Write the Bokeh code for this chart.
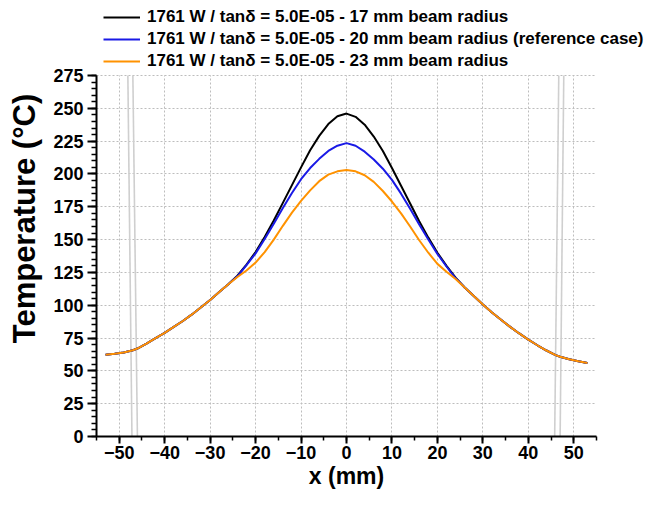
from bokeh.plotting import figure
from bokeh.models import Range1d, SingleIntervalTicker, Legend, LegendItem, Title
from bokeh.embed import file_html
from bokeh.resources import INLINE

# ---- data ----
x_mm = [-53, -51, -49, -47, -46, -44, -42, -40, -38, -36, -34, -32, -30, -28, -26,
        -24, -22, -20, -18, -16, -14, -12, -10, -8, -6, -4, -2, 0,
        2, 4, 6, 8, 10, 12, 14, 16, 18, 20, 22, 24,
        26, 28, 30, 32, 34, 36, 38, 40, 42, 44, 46, 47, 49, 51, 53]

temp_17mm = [62.2, 63, 64, 65.7, 67, 70.8, 75, 79, 83.5, 88, 93, 98.5, 104, 110, 116,
             122.5, 131, 140.5, 152, 164.5, 178, 191.5, 205, 218, 229, 238, 244, 246,
             243.5, 237.5, 228.5, 217.5, 204.5, 191, 177.5, 164, 151.5, 140, 130, 121,
             113.5, 107, 100.5, 94.5, 89, 83.5, 78.5, 73.8, 69.5, 65.5, 62, 60.8, 58.8, 57.3, 56]

temp_20mm = [62.2, 63, 64, 65.7, 67, 70.8, 75, 79, 83.5, 88, 93, 98.5, 104, 110, 116,
             122, 130.5, 139.5, 150.5, 162, 174, 185.5, 196, 204.5, 211.5, 217.5, 221.5, 223.5,
             221.5, 217, 211, 204, 195.5, 185, 173.5, 161.5, 150, 139, 129.5, 120.5,
             113.5, 107, 100.5, 94.5, 89, 83.5, 78.5, 73.8, 69.5, 65.5, 62, 60.8, 58.8, 57.3, 56]

temp_23mm = [62.2, 63, 64, 65.7, 67, 70.8, 75, 79, 83.5, 88, 93, 98.5, 104, 110, 116,
             121.5, 126.5, 132.5, 140.5, 150, 160.5, 170.5, 179.5, 187.5, 194.5, 199.5, 202, 203,
             202, 199, 194, 187, 179, 170, 160, 149.5, 140, 131.5, 125.5, 120,
             113.5, 107, 100.5, 94.5, 89, 83.5, 78.5, 73.8, 69.5, 65.5, 62, 60.8, 58.8, 57.3, 56]

series_labels = [
    "1761 W / tan\u03b4 = 5.0E-05 - 17 mm beam radius",
    "1761 W / tan\u03b4 = 5.0E-05 - 20 mm beam radius (reference case)",
    "1761 W / tan\u03b4 = 5.0E-05 - 23 mm beam radius",
]

# light grey near-vertical traces at the sample edges
edge_x_bottom = [-47.2, -46.0, 45.8, 47.0]
edge_x_top = [-48.1, -47.0, 46.7, 47.8]
edge_y_bottom = [0, 0, 0, 0]
edge_y_top = [275, 275, 275, 275]

X_AXIS = (-55, 55)
Y_AXIS = (0, 275)
FONT = "Liberation Sans"

# ---- layout (screen px) ----
W, H = 650, 493
B_LEFT, B_BOTTOM = 96, 57
AXIS_W = 500            # pixel length of the drawn x axis
AXIS_TOP_PX = 75        # pixel row of the 275 tick
frame_w = W - B_LEFT
frame_h = H - B_BOTTOM
px_per_x = AXIS_W / (X_AXIS[1] - X_AXIS[0])
x_end = X_AXIS[0] + frame_w / px_per_x
y_end = Y_AXIS[1] * frame_h / (frame_h - AXIS_TOP_PX)

p = figure(width=W, height=H, title=None,
           x_range=Range1d(X_AXIS[0], x_end), y_range=Range1d(Y_AXIS[0], y_end),
           output_backend="svg", toolbar_location=None,
           min_border_left=B_LEFT, min_border_right=0,
           min_border_top=0, min_border_bottom=B_BOTTOM)
p.outline_line_color = None
p.background_fill_color = "white"
p.border_fill_color = "white"

p.segment(x0=edge_x_bottom, y0=edge_y_bottom, x1=edge_x_top, y1=edge_y_top,
          line_color="#cfcfcf", line_width=1.6)

r1 = p.line(x_mm, temp_17mm, line_color="black", line_width=2)
r2 = p.line(x_mm, temp_20mm, line_color="#1a1ae6", line_width=2)
r3 = p.line(x_mm, temp_23mm, line_color="#ff9200", line_width=2)

# axes
p.xaxis.ticker = SingleIntervalTicker(interval=10, num_minor_ticks=2)
p.yaxis.ticker = SingleIntervalTicker(interval=25, num_minor_ticks=5)
p.xaxis.bounds = X_AXIS
p.yaxis.bounds = Y_AXIS
for ax in (p.xaxis[0], p.yaxis[0]):
    ax.axis_line_width = 2
    ax.axis_line_color = "black"
    ax.major_tick_line_width = 2
    ax.minor_tick_line_width = 1.5
    ax.major_tick_in = 0
    ax.minor_tick_in = 0
    ax.major_label_text_font = FONT
    ax.major_label_text_font_style = "bold"
    ax.major_label_text_font_size = "18px"
    ax.major_label_text_color = "black"
    ax.axis_label_text_font = FONT
    ax.axis_label_text_font_style = "bold"
    ax.axis_label_text_color = "black"
p.xaxis.major_tick_out = 7
p.xaxis.minor_tick_out = 4
p.yaxis.major_tick_out = 9
p.yaxis.minor_tick_out = 5
p.xaxis.major_label_standoff = 2
p.yaxis.major_label_standoff = 4
p.yaxis.axis_label = "Temperature (\u00b0C)"
p.yaxis.axis_label_text_font_size = "31px"
p.yaxis.axis_label_standoff = 8

# x-axis title, centred under the drawn axis (x = 0)
XLABEL_SIZE = 23
xlabel_w = 3.278 * XLABEL_SIZE
p.add_layout(Title(text="x (mm)", align="left",
                   offset=AXIS_W / 2 - xlabel_w / 2,
                   vertical_align="middle", standoff=0,
                   text_font=FONT, text_font_style="bold",
                   text_font_size=f"{XLABEL_SIZE}px", text_color="black"), "below")

for g in (p.xgrid[0], p.ygrid[0]):
    g.grid_line_color = "#bdbdbd"
    g.grid_line_dash = "2 2"
    g.grid_line_width = 1
p.xgrid.bounds = X_AXIS
p.xgrid.cross_bounds = Y_AXIS
p.ygrid.bounds = Y_AXIS
p.ygrid.cross_bounds = X_AXIS

legend = Legend(items=[LegendItem(label=series_labels[0], renderers=[r1]),
                       LegendItem(label=series_labels[1], renderers=[r2]),
                       LegendItem(label=series_labels[2], renderers=[r3])],
                location=(7, frame_h - 71), orientation="vertical",
                label_text_font=FONT, label_text_font_style="bold",
                label_text_font_size="17px", label_text_color="black",
                glyph_width=37, glyph_height=18, label_height=18,
                spacing=2, padding=0, margin=0, label_standoff=7,
                border_line_color=None, background_fill_alpha=0)
p.add_layout(legend)

open("out.html", "w").write(file_html(p, INLINE))
